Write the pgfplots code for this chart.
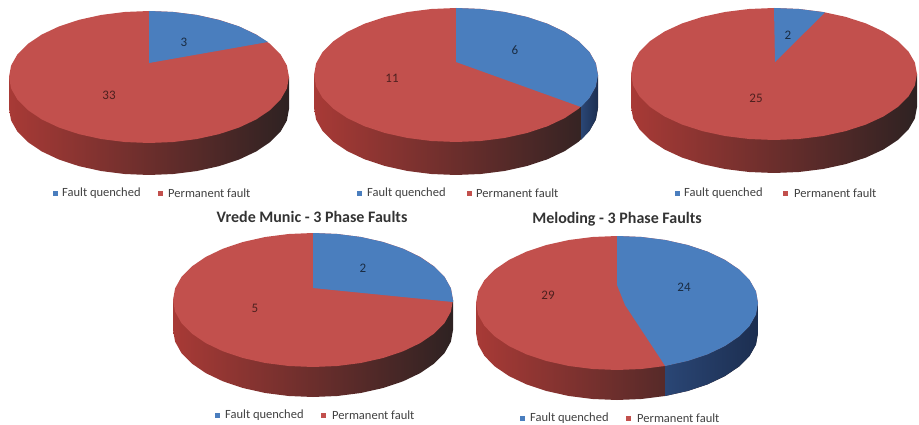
\documentclass[border=0pt]{standalone}
\usepackage{fontspec}
\setmainfont{Carlito}
\usepackage{pgfplots}
\usepackage{pgfplotstable}
\pgfplotsset{compat=1.18}
\definecolor{pieblue}{HTML}{4A7EBE}
\definecolor{piered}{HTML}{C2504D}
\definecolor{sideA}{HTML}{A83A36}
\definecolor{sideB}{HTML}{7C2B29}
\definecolor{sideC}{HTML}{2E2222}
\definecolor{bsideA}{HTML}{2A4675}
\definecolor{bsideB}{HTML}{1C2E50}
\definecolor{lbltxt}{HTML}{404040}

% unit circle, y pointing down
\pgfplotstableread{
ux uy
1.000 0.000
0.985 0.174
0.940 0.342
0.866 0.500
0.766 0.643
0.643 0.766
0.500 0.866
0.342 0.940
0.174 0.985
0.000 1.000
-0.174 0.985
-0.342 0.940
-0.500 0.866
-0.643 0.766
-0.766 0.643
-0.866 0.500
-0.940 0.342
-0.985 0.174
-1.000 0.000
-0.985 -0.174
-0.940 -0.342
-0.866 -0.500
-0.766 -0.643
-0.643 -0.766
-0.500 -0.866
-0.342 -0.940
-0.174 -0.985
0.000 -1.000
0.174 -0.985
0.342 -0.940
0.500 -0.866
0.643 -0.766
0.766 -0.643
0.866 -0.500
0.940 -0.342
0.985 -0.174
}\unitcircle

% outline of the rim, d=1 on the lower edge
\pgfplotstableread{
ux uy d
-1.000 0.000 0
-1.000 0.000 1
-0.985 0.174 1
-0.940 0.342 1
-0.866 0.500 1
-0.766 0.643 1
-0.643 0.766 1
-0.500 0.866 1
-0.342 0.940 1
-0.174 0.985 1
0.000 1.000 1
0.174 0.985 1
0.342 0.940 1
0.500 0.866 1
0.643 0.766 1
0.766 0.643 1
0.866 0.500 1
0.940 0.342 1
0.985 0.174 1
1.000 0.000 1
1.000 0.000 0
}\unitrim

% cx cy rx ry depth
\newcommand{\piebody}[5]{
  \addplot[draw=none, left color=sideA, middle color=sideB, right color=sideC]
    table[x expr={#1+#3*\thisrow{ux}}, y expr={#2+#4*\thisrow{uy}+#5*\thisrow{d}}] {\unitrim};
  \addplot[draw=none, fill=piered]
    table[x expr={#1+#3*\thisrow{ux}}, y expr={#2+#4*\thisrow{uy}}] {\unitcircle};
}
% blue square x, text x, red square x, text x, y
\newcommand{\pielegend}[5]{
  \addplot[only marks, mark=square*, mark size=2.2pt, color=pieblue] coordinates {(#1,#5)};
  \addplot[only marks, mark=square*, mark size=2.2pt, color=piered] coordinates {(#3,#5)};
  \node[anchor=west, inner sep=0pt, font=\fontsize{12.5}{13}\selectfont, text=lbltxt] at (axis cs:#2,#5) {Fault quenched};
  \node[anchor=west, inner sep=0pt, font=\fontsize{12.5}{13}\selectfont, text=lbltxt] at (axis cs:#4,#5) {Permanent fault};
}
\newcommand{\pielabel}[4]{
  \node[font=\fontsize{13}{14}\selectfont, text=#4] at (axis cs:#1,#2) {#3};
}

\begin{document}
\begin{tikzpicture}
\begin{axis}[
  scale only axis, width=919pt, height=425pt,
  xmin=0, xmax=919, ymin=0, ymax=425, y dir=reverse,
  hide axis, clip=false,
]
% keep the page at the full axis size
\path (axis cs:0,0) rectangle (axis cs:919,425);
% top row
\piebody{149}{77}{140}{66}{32}
\addplot[draw=none, fill=pieblue] coordinates {(149,63) (149,11) (173,12) (197,15) (219,20) (239,26.4) (256,34.6) (268,42)};
\pielabel{184}{42}{3}{pieblue!35!black}
\pielabel{109}{95}{33}{piered!40!black}
\pielegend{55}{62}{160}{168}{193}

\piebody{456}{75}{142}{67}{33}
\addplot[draw=none, left color=bsideA, right color=bsideB] coordinates {(581,107) (589.4,98) (595.8,86.6) (598,75) (598,108) (595.8,119.6) (589.4,131) (581,140)};
\addplot[draw=none, fill=pieblue] coordinates {(456,62) (456,8) (480.7,9) (504.6,12) (527,17) (547.3,23.7) (564.8,32) (579,41.5) (589.4,52) (595.8,63.4) (598,75) (595.8,86.6) (589.4,98) (581,107)};
\pielabel{515}{50}{6}{pieblue!35!black}
\pielabel{392}{78}{11}{piered!40!black}
\pielegend{359}{367}{469}{476}{193}

\piebody{774}{74}{143}{66}{33}
\addplot[draw=none, fill=pieblue] coordinates {(775,62) (774,8) (799,9) (825,12.4)};
\pielabel{788}{35}{2}{pieblue!35!black}
\pielabel{756}{98}{25}{piered!40!black}
\pielegend{677}{684}{785}{794}{193}

% bottom row
\piebody{313}{300}{140}{67}{30}
\addplot[draw=none, fill=pieblue] coordinates {(313,288) (313,233) (337.3,234) (360.9,237) (383,242) (403,248.7) (420,257) (434,266.5) (444.6,277) (450.9,288.4) (453,300) (453,302)};
\pielabel{363}{268}{2}{pieblue!35!black}
\pielabel{255}{308}{5}{piered!40!black}
\pielegend{217}{225}{323}{332}{415}
\node[font=\fontsize{16}{17}\selectfont\bfseries, text=black!80] at (axis cs:312,217) {Vrede Munic - 3 Phase Faults};

\piebody{617}{303}{141}{67}{30}
\addplot[draw=none, left color=bsideA, right color=bsideB] coordinates {(665.2,366) (687.5,361) (707.7,354.3) (725,346) (739,336.5) (749.5,326) (756,314.6) (758,303) (758,333) (756,344.6) (749.5,356) (739,366.5) (725,376) (707.7,384.3) (687.5,391) (665.2,396)};
\addplot[draw=none, fill=pieblue] coordinates {(617,285) (617,236) (641.5,237) (665.2,240) (687.5,245) (707.7,251.7) (725,260) (739,269.5) (749.5,280) (756,291.4) (758,303) (756,314.6) (749.5,326) (739,336.5) (725,346) (707.7,354.3) (687.5,361) (665.2,366) (625,305)};
\pielabel{684}{287}{24}{pieblue!35!black}
\pielabel{548}{295}{29}{piered!40!black}
\pielegend{522}{530}{628}{637}{418}
\node[font=\fontsize{16}{17}\selectfont\bfseries, text=black!80] at (axis cs:617,219) {Meloding - 3 Phase Faults};
\end{axis}
\end{tikzpicture}
\end{document}
